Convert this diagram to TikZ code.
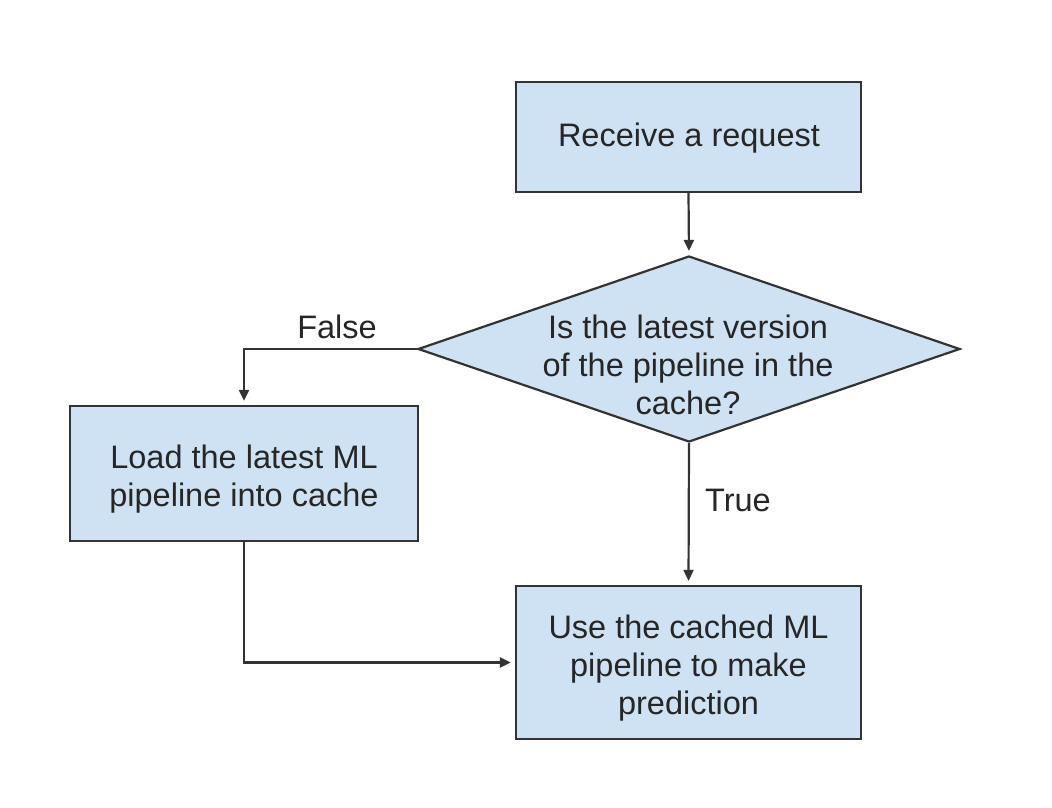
\documentclass[tikz,border=0pt]{standalone}
\usepackage{fontspec}
\setmainfont{Liberation Sans}
\usetikzlibrary{arrows.meta,shapes.geometric}
\definecolor{boxfill}{HTML}{CFE2F3}
\definecolor{boxline}{HTML}{333333}
\begin{document}
\begin{tikzpicture}[x=1pt,y=-1pt,
  every node/.style={font=\fontsize{32.5}{38}\selectfont, text=black!85},
  box/.style={draw=boxline, fill=boxfill, line width=2.2pt, inner sep=0pt, align=center},
  dia/.style={diamond, draw=boxline, fill=boxfill, line width=2.2pt, inner sep=0pt},
  arr/.style={draw=boxline, line width=2.2pt, -{Triangle[length=11pt,width=10pt]}, shorten >=4pt},
  lbl/.style={inner sep=0pt}]
\useasboundingbox (0,0) rectangle (1052,808);
\node[box, minimum width=345pt, minimum height=110pt] (top) at (688.5,137) {};
\node[lbl] (toptxt) at (689,138) {Receive a request};
\node[dia, minimum width=542pt, minimum height=186pt] (d) at (689,349) {};
\node[lbl, align=center] (dtxt) at (688,365) {Is the latest version\\of the pipeline in the\\cache?};
\node[box, minimum width=348pt, minimum height=135pt] (left) at (244,473.5) {};
\node[lbl, align=center] (lefttxt) at (244,479) {Load the latest ML\\pipeline into cache};
\node[box, minimum width=345pt, minimum height=153pt] (bot) at (688.5,662.5) {};
\node[lbl, align=center] (bottxt) at (688.5,668) {Use the cached ML\\pipeline to make\\prediction};
\node[lbl] (false) at (337,327) {False};
\node[lbl] (true) at (738,500) {True};
\draw[arr] (top.south) -- (d.north);
\draw[arr] (d.west) -| (left.north);
\draw[arr] (d.south) -- (bot.north);
\draw[arr] (left.south) |- (bot.west);
\end{tikzpicture}
\end{document}
